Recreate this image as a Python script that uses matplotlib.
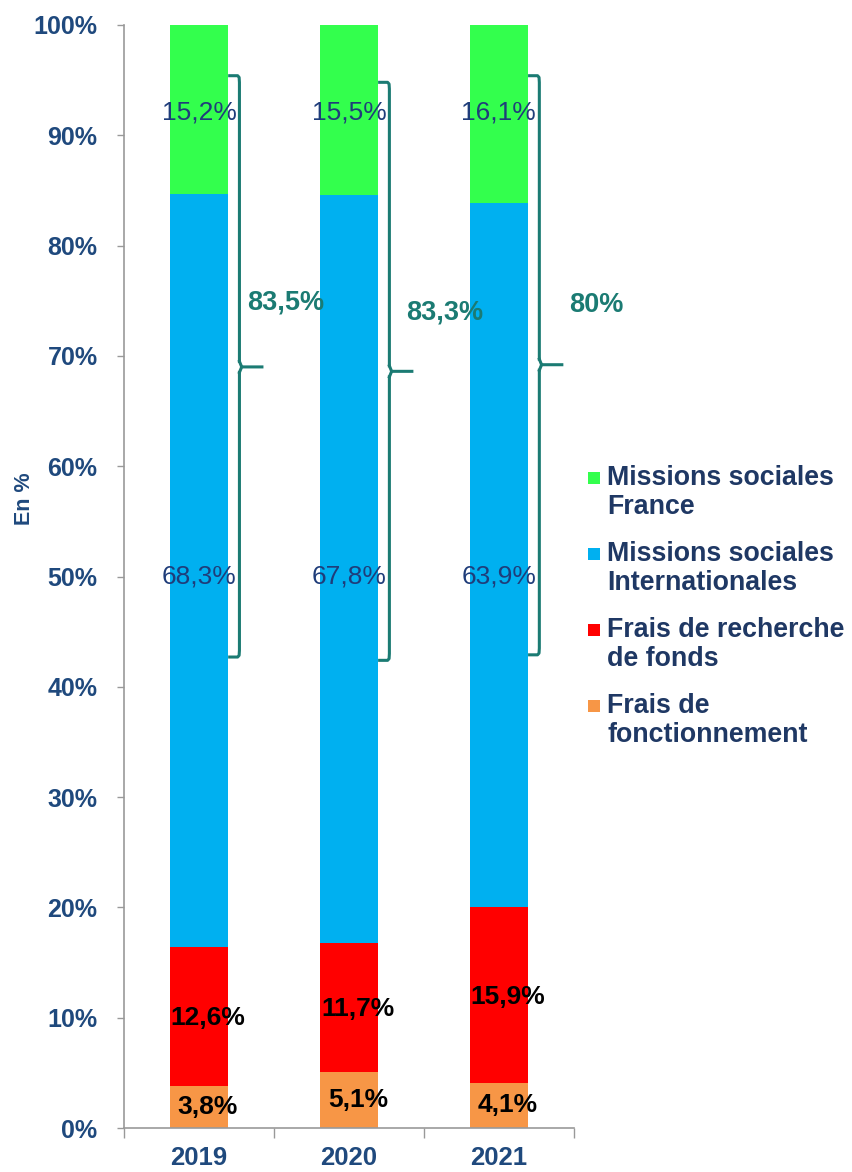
import numpy as np
import matplotlib.pyplot as plt
from matplotlib.patches import Rectangle

# Data (shares of total, %)
years = ["2019", "2020", "2021"]
frais_fonct = [3.8, 5.1, 4.1]
frais_recherche = [12.6, 11.7, 15.9]
missions_intl = [68.3, 67.8, 63.9]
missions_france = [15.2, 15.5, 16.1]

# Brackets grouping social missions
bracket_top = [95.4, 94.8, 95.4]
bracket_bottom = [42.7, 42.4, 42.9]
bracket_mid = [69.0, 68.6, 69.2]
bracket_labels = ["83,5%", "83,3%", "80%"]
bracket_label_y = [74.8, 73.9, 74.6]
bracket_label_dx = [0.31, 0.37, 0.38]

series_names = ["Missions sociales\nFrance", "Missions sociales\nInternationales",
                "Frais de recherche\nde fonds", "Frais de\nfonctionnement"]
colors = ["#33ff4d", "#00b0f0", "#ff0000", "#f79646"]

navy = "#1f497d"
label_navy = "#1f3d7a"
teal = "#1b7b73"
plt.rcParams['font.family'] = ['Liberation Sans', 'DejaVu Sans']


def pct(v):
    return f"{v:.1f}%".replace(".", ",")


fig = plt.figure(figsize=(8.52, 11.72), dpi=100)
ax = fig.add_axes([0.1455, 0.0375, 0.528, 0.9412])

x = np.arange(len(years))
w = 0.39
b1 = np.array(frais_fonct)
b2 = b1 + np.array(frais_recherche)
b3 = b2 + np.array(missions_intl)
top_green = 100 - b3

ax.bar(x, frais_fonct, w, color=colors[3])
ax.bar(x, frais_recherche, w, bottom=b1, color=colors[2])
ax.bar(x, missions_intl, w, bottom=b2, color=colors[1])
ax.bar(x, top_green, w, bottom=b3, color=colors[0])

# segment labels
for i in range(len(years)):
    ax.text(x[i] + 0.06, frais_fonct[i] / 2, pct(frais_fonct[i]),
            ha="center", va="center", fontsize=19, fontweight="bold", color="black")
    ax.text(x[i] + 0.06, b1[i] + frais_recherche[i] / 2 - 0.15, pct(frais_recherche[i]),
            ha="center", va="center", fontsize=19, fontweight="bold", color="black")
    ax.text(x[i], 50, pct(missions_intl[i]),
            ha="center", va="center", fontsize=19, color=label_navy)
    ax.text(x[i], 92.1, pct(missions_france[i]),
            ha="center", va="center", fontsize=19, color=label_navy)

# brackets "]" with a tick pointing right
for i in range(len(years)):
    bx = x[i] + 0.27
    t, b, m = bracket_top[i], bracket_bottom[i], bracket_mid[i]
    ax.plot([bx - 0.065, bx - 0.012, bx - 0.002, bx, bx],
            [t, t, t - 0.15, t - 0.6, m + 0.5], color=teal, lw=2.2, clip_on=False)
    ax.plot([bx, bx, bx - 0.002, bx - 0.012, bx - 0.065],
            [m - 0.5, b + 0.6, b + 0.15, b, b], color=teal, lw=2.2, clip_on=False)
    ax.plot([bx, bx + 0.015, bx + 0.15], [m + 0.5, m, m], color=teal, lw=2.2, clip_on=False)
    ax.plot([bx, bx + 0.015], [m - 0.5, m], color=teal, lw=2.2, clip_on=False)
    ax.text(bx + bracket_label_dx[i], bracket_label_y[i], bracket_labels[i], ha="center", va="center",
            fontsize=19.5, fontweight="bold", color=teal)

ax.set_xlim(-0.5, 2.5)
ax.set_ylim(0, 100)
ax.set_yticks(np.arange(0, 101, 10))
ax.set_yticklabels([f"{v}%" for v in range(0, 101, 10)])
ax.set_xticks(x)
ax.set_xticklabels(years)
ax.set_xticks([-0.5, 0.5, 1.5, 2.5], minor=True)
ax.tick_params(axis="x", which="major", length=0, pad=13, labelsize=18.5, labelcolor=navy)
ax.tick_params(axis="x", which="minor", length=7, color="#999999", width=1)
ax.tick_params(axis="y", length=5, color="#999999", width=1, labelsize=18, labelcolor=navy, pad=14)
for lbl in ax.get_xticklabels() + ax.get_yticklabels():
    lbl.set_fontweight("bold")

for s in ["top", "right"]:
    ax.spines[s].set_visible(False)
for s in ["left", "bottom"]:
    ax.spines[s].set_color("#999999")
    ax.spines[s].set_linewidth(1.2)

ax.set_ylabel("En %", fontsize=15.5, fontweight="bold", color=navy)
ax.yaxis.set_label_coords(-0.197, 0.571)

# legend drawn as squares + text (square aligned with the first line)
W, H = fig.get_size_inches() * fig.dpi
for k, name in enumerate(series_names):
    y0 = 478 + 76 * k
    fig.add_artist(Rectangle(((588) / W, 1 - (y0 + 6) / H), 12 / W, 12 / H,
                             transform=fig.transFigure, color=colors[k], lw=0))
    for j, line in enumerate(name.split("\n")):
        fig.text(607 / W, 1 - (y0 + 29 * j) / H, line, ha="left", va="center",
                 fontsize=19.3, fontweight="bold", color="#1f3864")

fig.savefig("out.png", dpi=100)
